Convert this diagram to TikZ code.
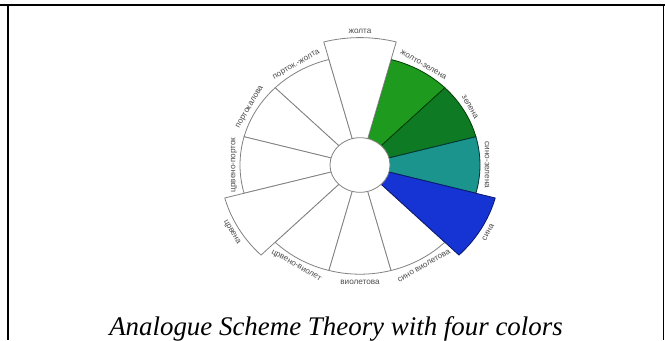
\documentclass[tikz,border=0pt]{standalone}
\usepackage{fontspec}
\setmainfont{Liberation Serif}
\newfontfamily\lblfont{Liberation Sans}
\usepackage{xcolor}
\definecolor{cYG}{RGB}{30,155,30}
\definecolor{cG}{RGB}{14,122,36}
\definecolor{cBG}{RGB}{26,148,140}
\definecolor{cB}{RGB}{22,52,212}
\definecolor{cBd}{RGB}{10,25,110}
\definecolor{cLine}{RGB}{130,130,130}

\begin{document}
\begin{tikzpicture}[x=1bp, y=1bp,
   sec/.style={draw=cLine, line width=0.8bp, fill=white},
   lbl/.style={font=\lblfont\fontsize{8.2}{9}\selectfont, text=black!70, inner sep=0pt},
   caption/.style={font=\fontsize{27}{30}\selectfont\itshape, inner sep=0pt, anchor=base}]
   \useasboundingbox (0,0) rectangle (665,340);

   % Frame
   \draw[line width=1.8bp] (0,335.2) -- (665,335.2);
   \draw[line width=1.8bp] (8.2,335.2) -- (8.2,0);
   \draw[line width=1.8bp] (663.5,335.2) -- (663.5,0);

   \begin{scope}[shift={(360,175)}, yscale=0.91]
   % Sectors, small ones first
   \draw[sec] (0,0) -- (105:120) arc (105:135:120) -- cycle;
   \draw[sec] (0,0) -- (135:120) arc (135:165:120) -- cycle;
   \draw[sec] (0,0) -- (165:120) arc (165:195:120) -- cycle;
   \draw[sec] (0,0) -- (225:120) arc (225:255:120) -- cycle;
   \draw[sec] (0,0) -- (255:120) arc (255:285:120) -- cycle;
   \draw[sec] (0,0) -- (285:120) arc (285:315:120) -- cycle;
   \draw[sec, fill=cYG, draw=green!25!black] (0,0) -- (45:120) arc (45:75:120) -- cycle;
   \draw[sec, fill=cG, draw=green!25!black] (0,0) -- (15:120) arc (15:45:120) -- cycle;
   \draw[sec, fill=cBG, draw=teal!40!black] (0,0) -- (-15:120) arc (-15:15:120) -- cycle;
   % Primaries
   \draw[sec] (0,0) -- (75:140) arc (75:105:140) -- cycle;
   \draw[sec] (0,0) -- (195:140) arc (195:225:140) -- cycle;
   \draw[sec, fill=cB, draw=cBd] (0,0) -- (315:140) arc (315:345:140) -- cycle;
   % Hub
   \draw[sec] (0,0) circle (30);

   % Labels
   \node[lbl] (jolta) at (90:147) {жолта};
   \node[lbl, rotate=-30] (joltozel) at (60:127) {жолто-зелена};
   \node[lbl, rotate=-60] (zelena) at (30:127) {зелена};
   \node[lbl, rotate=-90] (sinozel) at (0:127) {сино-зелена};
   \node[lbl, rotate=60] (sina) at (-30:148) {сина};
   \node[lbl, rotate=30] (sinoviol) at (-60:128) {сино виолетова};
   \node[lbl] (viol) at (-90:129) {виолетова};
   \node[lbl, rotate=-30] (crvviol) at (-120:128) {црвено-виолет};
   \node[lbl, rotate=-60] (crvena) at (-150:148) {црвена};
   \node[lbl, rotate=90] (crvport) at (180:126) {црвено-порток};
   \node[lbl, rotate=60] (portok) at (150:127) {портокалова};
   \node[lbl, rotate=30] (portjol) at (120:127) {порток.-жолта};
   \end{scope}

   % Caption
   \node[caption] (cap) at (336,5) {Analogue Scheme Theory with four colors};
\end{tikzpicture}
\end{document}
